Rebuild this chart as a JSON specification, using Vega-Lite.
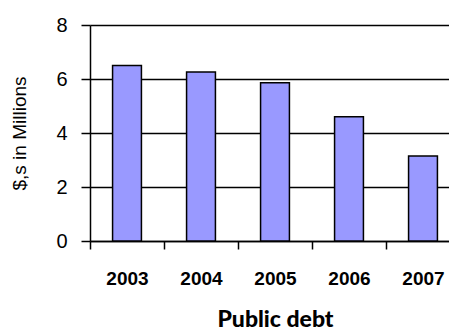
{
  "$schema": "https://vega.github.io/schema/vega-lite/v6.json",
  "width": 370,
  "height": 216,
  "padding": {"left": 10, "top": 15, "right": 0, "bottom": 0},
  "background": "#ffffff",
  "view": {"stroke": null},
  "config": {
    "font": "Liberation Sans, Arial, sans-serif"
  },
  "data": {
    "values": [
      {"year": "2003", "value": 6.5},
      {"year": "2004", "value": 6.26},
      {"year": "2005", "value": 5.86},
      {"year": "2006", "value": 4.6},
      {"year": "2007", "value": 3.15}
    ]
  },
  "mark": {"type": "bar", "fill": "#9999FF", "stroke": "#000000", "strokeWidth": 1.5, "width": {"band": 0.39}},
  "encoding": {
    "x": {
      "field": "year",
      "type": "ordinal",
      "scale": {"paddingInner": 0, "paddingOuter": 0},
      "axis": {
        "title": "Public debt",
        "labelAngle": 0,
        "tickBand": "extent",
        "tickSize": 8,
        "tickColor": "#000000",
        "tickWidth": 1.5,
        "domainColor": "#000000",
        "domainWidth": 1.5,
        "labelFont": "Liberation Sans, Arial, sans-serif",
        "labelFontSize": 19,
        "labelFontWeight": "bold",
        "labelColor": "#000000",
        "labelPadding": 20,
        "titleFont": "Lato, Liberation Sans, sans-serif",
        "titleFontSize": 23,
        "titleFontWeight": 900,
        "titleColor": "#000000",
        "titlePadding": 20
      }
    },
    "y": {
      "field": "value",
      "type": "quantitative",
      "scale": {"domain": [0, 8], "nice": false},
      "axis": {
        "title": "$,s in Millions",
        "values": [0, 2, 4, 6, 8],
        "grid": true,
        "gridColor": "#000000",
        "gridWidth": 1.5,
        "gridOpacity": 1,
        "tickSize": 9,
        "tickColor": "#000000",
        "tickWidth": 1.5,
        "domainColor": "#000000",
        "domainWidth": 1.5,
        "labelFont": "Liberation Sans, Arial, sans-serif",
        "labelFontSize": 20,
        "labelColor": "#000000",
        "labelPadding": 14,
        "titleFont": "Liberation Sans, Arial, sans-serif",
        "titleFontSize": 19,
        "titleFontWeight": "normal",
        "titleColor": "#000000",
        "titlePadding": 26
      }
    }
  }
}
